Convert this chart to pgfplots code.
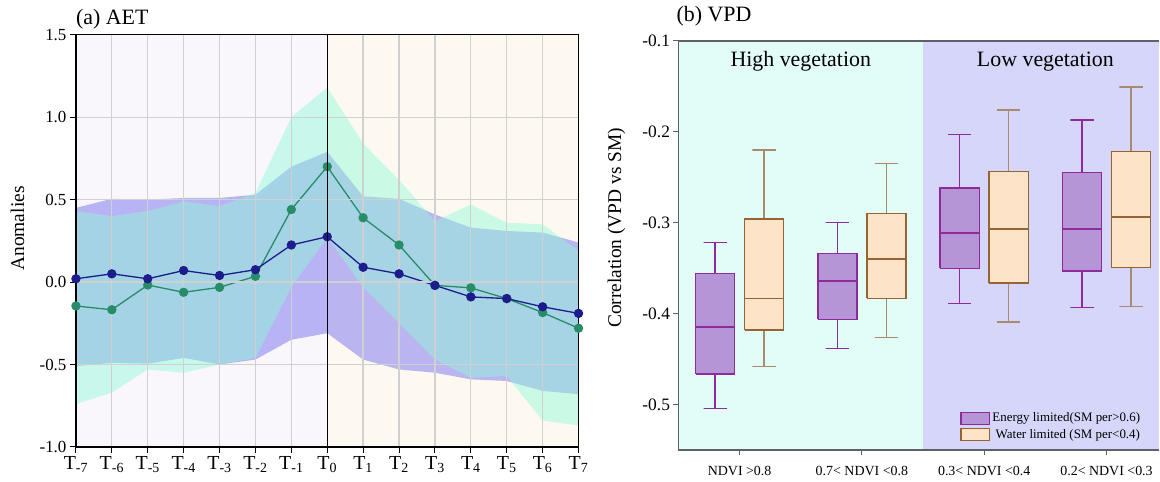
\documentclass[border=0pt]{standalone}
\usepackage{fontspec}
\setmainfont{Liberation Serif}
\usepackage{pgfplots}
\pgfplotsset{compat=1.18}
\usepackage{pgfplotstable}

\definecolor{bgL}{RGB}{249,247,252}
\definecolor{bgR}{RGB}{253,249,241}
\definecolor{bandP}{RGB}{142,135,240}
\definecolor{bandG}{RGB}{145,249,216}
\definecolor{navyL}{RGB}{28,28,140}
\definecolor{greenL}{RGB}{40,140,105}
\definecolor{gridc}{RGB}{208,208,208}
\definecolor{bgHigh}{RGB}{226,253,248}
\definecolor{bgLow}{RGB}{214,214,250}
\definecolor{eFill}{RGB}{181,149,213}
\definecolor{eEdge}{RGB}{142,42,158}
\definecolor{wFill}{RGB}{253,227,199}
\definecolor{wEdge}{RGB}{150,100,50}
\definecolor{wWhisk}{RGB}{168,138,110}
\definecolor{frameb}{RGB}{96,96,104}

% lines of panel (a)
\pgfplotstableread{
x nv gr
-7 0.02 -0.145
-6 0.05 -0.168
-5 0.02 -0.018
-4 0.07 -0.062
-3 0.04 -0.032
-2 0.075 0.035
-1 0.225 0.44
0 0.275 0.70
1 0.09 0.39
2 0.05 0.225
3 -0.02 -0.02
4 -0.09 -0.035
5 -0.10 -0.10
6 -0.15 -0.185
7 -0.19 -0.28
}\aet

% band of the navy series: upper edge, then lower edge backwards
\pgfplotstableread{
x y
-7 0.45
-6 0.505
-5 0.50
-4 0.51
-3 0.51
-2 0.53
-1 0.70
0 0.79
1 0.52
2 0.505
3 0.41
4 0.33
5 0.31
6 0.30
7 0.24
7 -0.68
6 -0.66
5 -0.60
4 -0.59
3 -0.55
2 -0.53
1 -0.47
0 -0.31
-1 -0.35
-2 -0.47
-3 -0.50
-4 -0.46
-5 -0.495
-6 -0.49
-7 -0.51
}\bandN

% band of the green series
\pgfplotstableread{
x y
-7 0.43
-6 0.40
-5 0.43
-4 0.49
-3 0.46
-2 0.54
-1 1.00
0 1.18
1 0.84
2 0.62
3 0.37
4 0.47
5 0.36
6 0.35
7 0.19
7 -0.87
6 -0.84
5 -0.57
4 -0.58
3 -0.47
2 -0.25
1 -0.03
0 0.27
-1 -0.03
-2 -0.46
-3 -0.50
-4 -0.55
-5 -0.53
-6 -0.67
-7 -0.74
}\bandG

% panel (b): boxes (q1..q3), whiskers, medians
\pgfplotstableread{
x y
0.64 -0.466
0.96 -0.466
0.96 -0.356
0.64 -0.356
0.64 -0.466
nan nan
1.64 -0.406
1.96 -0.406
1.96 -0.334
1.64 -0.334
1.64 -0.406
nan nan
2.64 -0.350
2.96 -0.350
2.96 -0.262
2.64 -0.262
2.64 -0.350
nan nan
3.64 -0.353
3.96 -0.353
3.96 -0.245
3.64 -0.245
3.64 -0.353
}\eBox
\pgfplotstableread{
x y
0.8 -0.356
0.8 -0.322
0.705 -0.322
0.895 -0.322
nan nan
0.8 -0.466
0.8 -0.504
0.705 -0.504
0.895 -0.504
nan nan
1.8 -0.334
1.8 -0.300
1.705 -0.300
1.895 -0.300
nan nan
1.8 -0.406
1.8 -0.438
1.705 -0.438
1.895 -0.438
nan nan
2.8 -0.262
2.8 -0.203
2.705 -0.203
2.895 -0.203
nan nan
2.8 -0.350
2.8 -0.389
2.705 -0.389
2.895 -0.389
nan nan
3.8 -0.245
3.8 -0.187
3.705 -0.187
3.895 -0.187
nan nan
3.8 -0.353
3.8 -0.393
3.705 -0.393
3.895 -0.393
}\eWh
\pgfplotstableread{
x y
0.64 -0.414
0.96 -0.414
nan nan
1.64 -0.364
1.96 -0.364
nan nan
2.64 -0.311
2.96 -0.311
nan nan
3.64 -0.307
3.96 -0.307
}\eMed
\pgfplotstableread{
x y
1.04 -0.418
1.36 -0.418
1.36 -0.296
1.04 -0.296
1.04 -0.418
nan nan
2.04 -0.383
2.36 -0.383
2.36 -0.290
2.04 -0.290
2.04 -0.383
nan nan
3.04 -0.366
3.36 -0.366
3.36 -0.244
3.04 -0.244
3.04 -0.366
nan nan
4.04 -0.349
4.36 -0.349
4.36 -0.222
4.04 -0.222
4.04 -0.349
}\wBox
\pgfplotstableread{
x y
1.2 -0.296
1.2 -0.220
1.105 -0.220
1.295 -0.220
nan nan
1.2 -0.418
1.2 -0.458
1.105 -0.458
1.295 -0.458
nan nan
2.2 -0.290
2.2 -0.235
2.105 -0.235
2.295 -0.235
nan nan
2.2 -0.383
2.2 -0.426
2.105 -0.426
2.295 -0.426
nan nan
3.2 -0.244
3.2 -0.176
3.105 -0.176
3.295 -0.176
nan nan
3.2 -0.366
3.2 -0.409
3.105 -0.409
3.295 -0.409
nan nan
4.2 -0.222
4.2 -0.151
4.105 -0.151
4.295 -0.151
nan nan
4.2 -0.349
4.2 -0.392
4.105 -0.392
4.295 -0.392
}\wWh
\pgfplotstableread{
x y
1.04 -0.383
1.36 -0.383
nan nan
2.04 -0.340
2.36 -0.340
nan nan
3.04 -0.307
3.36 -0.307
nan nan
4.04 -0.294
4.36 -0.294
}\wMed

\begin{document}
\begin{tikzpicture}[x=1bp,y=1bp]
\path (0,0) rectangle (1160,482);

% ---------- panel (a)
\begin{axis}[
  at={(76bp,34.7bp)}, anchor=south west,
  scale only axis, width=503bp, height=412.5bp,
  xmin=-7, xmax=7, ymin=-1, ymax=1.5,
  enlargelimits=false,
  axis on top,
  grid=major,
  major grid style={gridc, line width=1.3bp},
  axis line style={black, line width=1.2bp},
  tick style={black, line width=1bp},
  major tick length=6bp,
  tick align=outside,
  xtick pos=left, ytick pos=left,
  xtick={-7,-6,-5,-4,-3,-2,-1,0,1,2,3,4,5,6,7},
  xticklabels={T\textsubscript{-7},T\textsubscript{-6},T\textsubscript{-5},T\textsubscript{-4},T\textsubscript{-3},T\textsubscript{-2},T\textsubscript{-1},T\textsubscript{0},T\textsubscript{1},T\textsubscript{2},T\textsubscript{3},T\textsubscript{4},T\textsubscript{5},T\textsubscript{6},T\textsubscript{7}},
  ytick={-1,-0.5,0,0.5,1,1.5},
  yticklabel style={font=\fontsize{17}{17}\selectfont, /pgf/number format/.cd, fixed, fixed zerofill, precision=1, assume math mode=true},
  xticklabel style={font=\fontsize{20}{20}\selectfont},
  ylabel={Anomalies},
  ylabel style={font=\fontsize{19.5}{20}\selectfont, at={(axis description cs:-0.1163,0.53)}, anchor=center},
  after end axis/.code={
    \draw[black, line width=1.3bp] (axis cs:0,-1) -- (axis cs:0,1.5);
  },
]
\fill[bgL] (axis cs:-7,-1) rectangle (axis cs:0,1.5);
\fill[bgR] (axis cs:0,-1) rectangle (axis cs:7,1.5);

\addplot[fill=bandP, fill opacity=0.6, draw=none, forget plot] table[x=x,y=y]{\bandN} -- cycle;
\addplot[fill=bandG, fill opacity=0.47, draw=none, forget plot] table[x=x,y=y]{\bandG} -- cycle;

\addplot[greenL, line width=1.3bp, mark=*, mark size=4bp, mark options={fill=greenL, draw=greenL}] table[x=x,y=gr]{\aet};
\addplot[navyL, line width=1.3bp, mark=*, mark size=4bp, mark options={fill=navyL, draw=navyL}] table[x=x,y=nv]{\aet};
\end{axis}
\node[anchor=base west, font=\fontsize{22}{22}\selectfont, inner sep=0pt] at (76,457) {(a) AET};

% ---------- panel (b)
\begin{axis}[
  at={(679bp,31.3bp)}, anchor=south west,
  scale only axis, width=481bp, height=410bp,
  xmin=0.5, xmax=4.43, ymin=-0.55, ymax=-0.1,
  enlargelimits=false,
  unbounded coords=jump,
  axis on top,
  axis x line*=bottom, axis y line*=left,
  axis line style={frameb, line width=1.8bp},
  tick style={frameb, line width=1bp},
  major tick length=5bp,
  tick align=outside,
  xtick={1,2,3,4},
  xticklabels={NDVI >0.8, 0.7< NDVI <0.8, 0.3< NDVI <0.4, 0.2< NDVI <0.3},
  xticklabel style={font=\fontsize{14}{14}\selectfont, yshift=-7bp},
  ytick={-0.5,-0.4,-0.3,-0.2,-0.1},
  yticklabel style={font=\fontsize{17.5}{17.5}\selectfont, /pgf/number format/.cd, fixed, fixed zerofill, precision=1, assume math mode=true},
  ylabel={Correlation (VPD vs SM)},
  ylabel style={font=\fontsize{19.5}{20}\selectfont, at={(axis description cs:-0.129,0.543)}, anchor=center},
  legend style={at={(0.965,0.02)}, anchor=south east, draw=none, fill=none,
    font=\fontsize{13}{13}\selectfont, row sep=2bp, inner sep=0pt,
    nodes={inner sep=2bp}},
  legend cell align=left,
  legend image code/.code={\draw[#1] (0bp,-6bp) rectangle (29bp,6bp);},
  after end axis/.code={
    \draw[frameb, line width=1.8bp] (rel axis cs:0,1) -- (rel axis cs:1,1);
  },
]
\fill[bgHigh] (axis cs:0.5,-0.55) rectangle (axis cs:2.5,-0.1);
\fill[bgLow] (axis cs:2.5,-0.55) rectangle (axis cs:4.43,-0.1);

\addplot[forget plot, eEdge, line width=1.4bp] table[x=x,y=y]{\eWh};
\addplot[forget plot, draw=eEdge, fill=eFill, line width=1.4bp] table[x=x,y=y]{\eBox};
\addplot[forget plot, eEdge, line width=2bp] table[x=x,y=y]{\eMed};

\addplot[forget plot, wWhisk, line width=1.4bp] table[x=x,y=y]{\wWh};
\addplot[forget plot, draw=wEdge, fill=wFill, line width=1.4bp] table[x=x,y=y]{\wBox};
\addplot[forget plot, wEdge, line width=1.6bp] table[x=x,y=y]{\wMed};

\addlegendimage{draw=eEdge, fill=eFill, line width=1.2bp}
\addlegendentry{Energy limited(SM per>0.6)}
\addlegendimage{draw=wEdge, fill=wFill, line width=1.2bp}
\addlegendentry{\ Water limited (SM per<0.4)}

\node[font=\fontsize{22}{22}\selectfont] at (axis cs:1.5,-0.1225) {High vegetation};
\node[font=\fontsize{22}{22}\selectfont] at (axis cs:3.5,-0.1225) {Low vegetation};
\end{axis}
\node[anchor=base west, font=\fontsize{22}{22}\selectfont, inner sep=0pt] at (677,460) {(b) VPD};
\end{tikzpicture}
\end{document}
